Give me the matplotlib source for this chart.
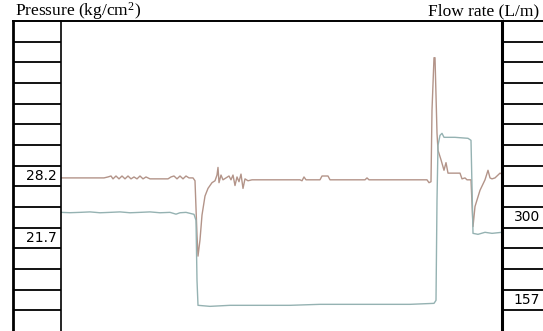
import matplotlib

matplotlib.use("Agg")
import matplotlib.pyplot as plt  # noqa: E402
from matplotlib.lines import Line2D  # noqa: E402

plt.rcParams["mathtext.fontset"] = "custom"
plt.rcParams["mathtext.rm"] = "Liberation Serif"
plt.rcParams["mathtext.it"] = "Liberation Serif"

W, H = 543, 331

# Scale labels printed in the side columns
pressure_labels = [28.2, 21.7]
flow_labels = [300, 157]

# Recorder trace, pressure (kg/cm2) against time (chart samples)
p_time = [0, 43, 47, 50, 52, 55, 58, 61, 64, 67, 70, 73, 76, 79, 82, 85, 89,
          107, 110, 113, 116, 119, 122, 125, 128, 132, 134, 136, 137, 139,
          141, 144, 147, 151, 154, 156, 157, 158, 160, 162, 165, 168, 170,
          172, 174, 176, 178, 180, 182, 184, 187, 191, 239, 241, 243, 245,
          259, 261, 267, 269, 304, 306, 308, 366, 368, 370, 371, 373, 374,
          375, 376, 377, 380, 383, 385, 387, 399, 401, 404, 406, 410, 412,
          414, 419, 424, 427, 429, 431, 434, 439, 441]
p_value = [28.0, 28.0, 28.1, 28.2, 27.9, 28.2, 27.9, 28.2, 27.9, 28.2, 27.9,
           28.1, 27.9, 28.2, 27.9, 28.1, 27.9, 27.9, 28.1, 28.2, 27.9, 28.2,
           27.9, 28.2, 28.0, 28.0, 27.7, 22.0, 19.8, 21.5, 24.1, 26.1, 26.9,
           27.5, 27.7, 28.3, 29.1, 27.5, 28.3, 27.8, 28.0, 28.2, 27.8, 28.3,
           27.2, 28.1, 27.6, 28.4, 26.9, 27.9, 27.7, 27.8, 27.8, 27.7, 28.1,
           27.8, 27.8, 28.2, 28.2, 27.8, 27.8, 28.0, 27.8, 27.8, 27.5, 27.6,
           35.1, 40.6, 40.6, 36.7, 32.7, 30.9, 29.9, 28.8, 29.6, 28.5, 28.5,
           27.9, 28.0, 27.8, 27.8, 22.9, 25.0, 26.7, 27.8, 28.8, 28.0, 27.9,
           28.0, 28.5, 28.4]

# Recorder trace, flow rate (L/m) against time (chart samples)
f_time = [0, 9, 19, 29, 39, 49, 59, 69, 79, 89, 99, 109, 115, 119, 125, 129,
          133, 135, 136, 137, 149, 169, 199, 229, 259, 289, 319, 349, 373,
          375, 376, 377, 379, 381, 383, 394, 407, 410, 412, 417, 424, 431,
          441]
f_value = [308.6, 308.0, 308.6, 309.4, 307.9, 308.6, 309.4, 307.9, 308.6,
           309.4, 307.9, 308.6, 305.5, 307.9, 308.6, 306.9, 305.2, 294.8,
           191.0, 147.8, 146.0, 147.8, 147.8, 147.8, 149.5, 149.5, 149.5,
           149.5, 151.2, 156.4, 329.4, 424.5, 441.8, 445.3, 438.4, 438.4,
           436.7, 433.2, 272.3, 270.6, 274.1, 272.3, 274.1]

P_COLOR = "#b39489"
F_COLOR = "#95b2b2"

# Each scale box is one row; the printed labels fix the scale
p_row = (pressure_labels[0] - pressure_labels[1]) / 3
p_top = pressure_labels[0] + 7.5 * p_row
p_lim = (p_top - 15 * p_row, p_top)
f_row = (flow_labels[0] - flow_labels[1]) / 4
f_top = flow_labels[0] + 9.5 * f_row
f_lim = (f_top - 15 * f_row, f_top)

fig = plt.figure(figsize=(W / 100, H / 100), dpi=100)
plot_h = (H - 21) / H

ax = fig.add_axes([61 / W, 0, (502 - 61) / W, plot_h])
ax.plot(p_time, p_value, color=P_COLOR, lw=1.0)
ax.set_xlim(0, 441)
ax.set_ylim(*p_lim)
ax2 = ax.twinx()
ax2.plot(f_time, f_value, color=F_COLOR, lw=1.0)
ax2.set_ylim(*f_lim)
for a in (ax, ax2):
    a.set_xticks([])
    a.set_yticks([])
    for s in a.spines.values():
        s.set_visible(False)


def scale_column(rect, lim, row, labels, fmt, side):
    col = fig.add_axes(rect)
    col.set_xlim(0, 1)
    col.set_ylim(*lim)
    for k in range(1, 15):
        col.axhline(lim[1] - k * row, color="black", lw=1.3)
    for lab in labels:
        col.text(0.92, lab, fmt.format(lab), ha="right", va="center",
                 fontsize=10, family="DejaVu Sans")
    col.set_xticks([])
    col.set_yticks([])
    col.spines["bottom"].set_visible(False)
    col.spines["top"].set_visible(False)
    col.spines["right"].set_visible(side == "left")
    col.spines["left"].set_linewidth(2.0 if side == "left" else 2.2)
    col.spines["right"].set_linewidth(1.2)
    return col


scale_column([13 / W, 0, 48 / W, plot_h], p_lim, p_row, pressure_labels,
             "{:.1f}", "left")
scale_column([502 / W, 0, 41 / W, plot_h], f_lim, f_row, flow_labels,
             "{:d}", "right")

fig.add_artist(Line2D([13 / W, 1], [plot_h, plot_h], color="black", lw=1.4,
                      transform=fig.transFigure))
fig.text(15 / W, 1 - 11 / H, "Pressure (kg/cm$^{2}$)", ha="left",
         va="center", fontsize=12.5, family="Liberation Serif")
fig.text(539 / W, 1 - 11 / H, "Flow rate (L/m)", ha="right", va="center",
         fontsize=12.5, family="Liberation Serif")

fig.savefig("out.png", dpi=100)
